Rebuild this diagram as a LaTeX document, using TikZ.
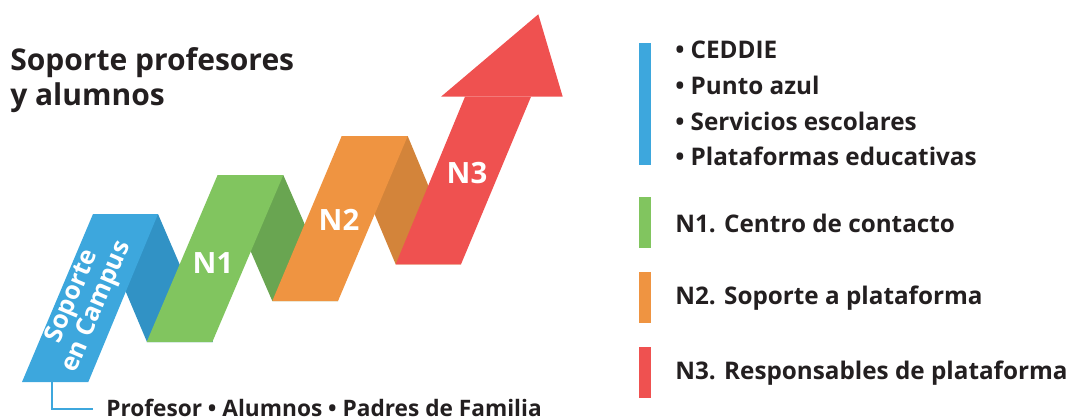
\documentclass[tikz,border=0pt]{standalone}
\usepackage{fontspec}
\setmainfont{Open Sans}
\definecolor{cblue}{HTML}{3DA7DD}
\definecolor{cblueD}{HTML}{3192C5}
\definecolor{cgreen}{HTML}{81C55F}
\definecolor{cgreenD}{HTML}{69A551}
\definecolor{corange}{HTML}{EF9441}
\definecolor{corangeD}{HTML}{D3843A}
\definecolor{cred}{HTML}{EF5150}
\definecolor{ctext}{HTML}{231F20}
\tikzset{
  lbl/.style={text=white,font=\bfseries\fontsize{22}{24}\selectfont,inner sep=0pt},
  legtxt/.style={text=ctext,font=\bfseries\fontsize{18.2}{21}\selectfont,anchor=west,inner sep=0pt},
  ttl/.style={text=ctext,font=\bfseries\fontsize{22.5}{27}\selectfont,anchor=base west,inner sep=0pt},
}
\begin{document}
\begin{tikzpicture}[x=0.75pt,y=-0.75pt]
\useasboundingbox (0,0) rectangle (1069,419);
% fold strips (behind)
\fill[cblueD] (93,214) -- (158,214) -- (213,342) -- (147,342) -- cycle;
\fill[cgreenD] (217.6,175) -- (283.3,175) -- (338,301) -- (272.3,301) -- cycle;
\fill[corangeD] (341.7,136) -- (407.7,136) -- (461,264.3) -- (395.7,264.3) -- cycle;
% front bands
\fill[cblue] (93,214) -- (158,214) -- (88.3,382) -- (22,382) -- cycle;
\fill[cgreen] (217.6,175) -- (283.3,175) -- (212.3,342) -- (146.7,342) -- cycle;
\fill[corange] (341.7,136) -- (407.7,136) -- (338,301) -- (272.3,301) -- cycle;
\fill[cred] (465,96.7) -- (531,96.7) -- (461,264.3) -- (395.7,264.3) -- cycle;
\fill[cred] (441,96.7) -- (562.7,96.7) -- (538.3,14.3) -- cycle;
% labels on bands
\node[lbl,font=\bfseries\fontsize{19}{20}\selectfont,align=center,rotate=67] (campus) at (85,302) {Soporte\\en Campus};
\node[lbl] (n1) at (213,263) {N1};
\node[lbl] (n2) at (339,220) {N2};
\node[lbl] (n3) at (467,173) {N3};
% title
\node[ttl] (title1) at (10,70) {Soporte profesores};
\node[ttl] (title2) at (10,105) {y alumnos};
% bottom
\coordinate (bstart) at (52,382);
\node[text=ctext,font=\bfseries\fontsize{17}{20}\selectfont,anchor=base west,inner sep=0pt] (users) at (106,416.5) {Profesor • Alumnos • Padres de Familia};
\draw[cblue,line width=1.5pt] (bstart) |- (93,409);
% legend bars
\fill[cblue] (639,43.3) rectangle (651,165);
\fill[cgreen] (639,196.7) rectangle (651,247.7);
\fill[corange] (639,272.3) rectangle (651,322.7);
\fill[cred] (639,346.7) rectangle (651,397.7);
% legend texts
\node[legtxt] (l1) at (675,50) {• CEDDIE};
\node[legtxt] (l2) at (675,85.5) {• Punto azul};
\node[legtxt] (l3) at (675,121) {• Servicios escolares};
\node[legtxt] (l4) at (675,156.5) {• Plataformas educativas};
\node[legtxt] (ln1) at (675,223) {N1. Centro de contacto};
\node[legtxt] (ln2) at (675,298) {N2. Soporte a plataforma};
\node[legtxt] (ln3) at (675,373) {N3. Responsables de plataforma};
\end{tikzpicture}
\end{document}
